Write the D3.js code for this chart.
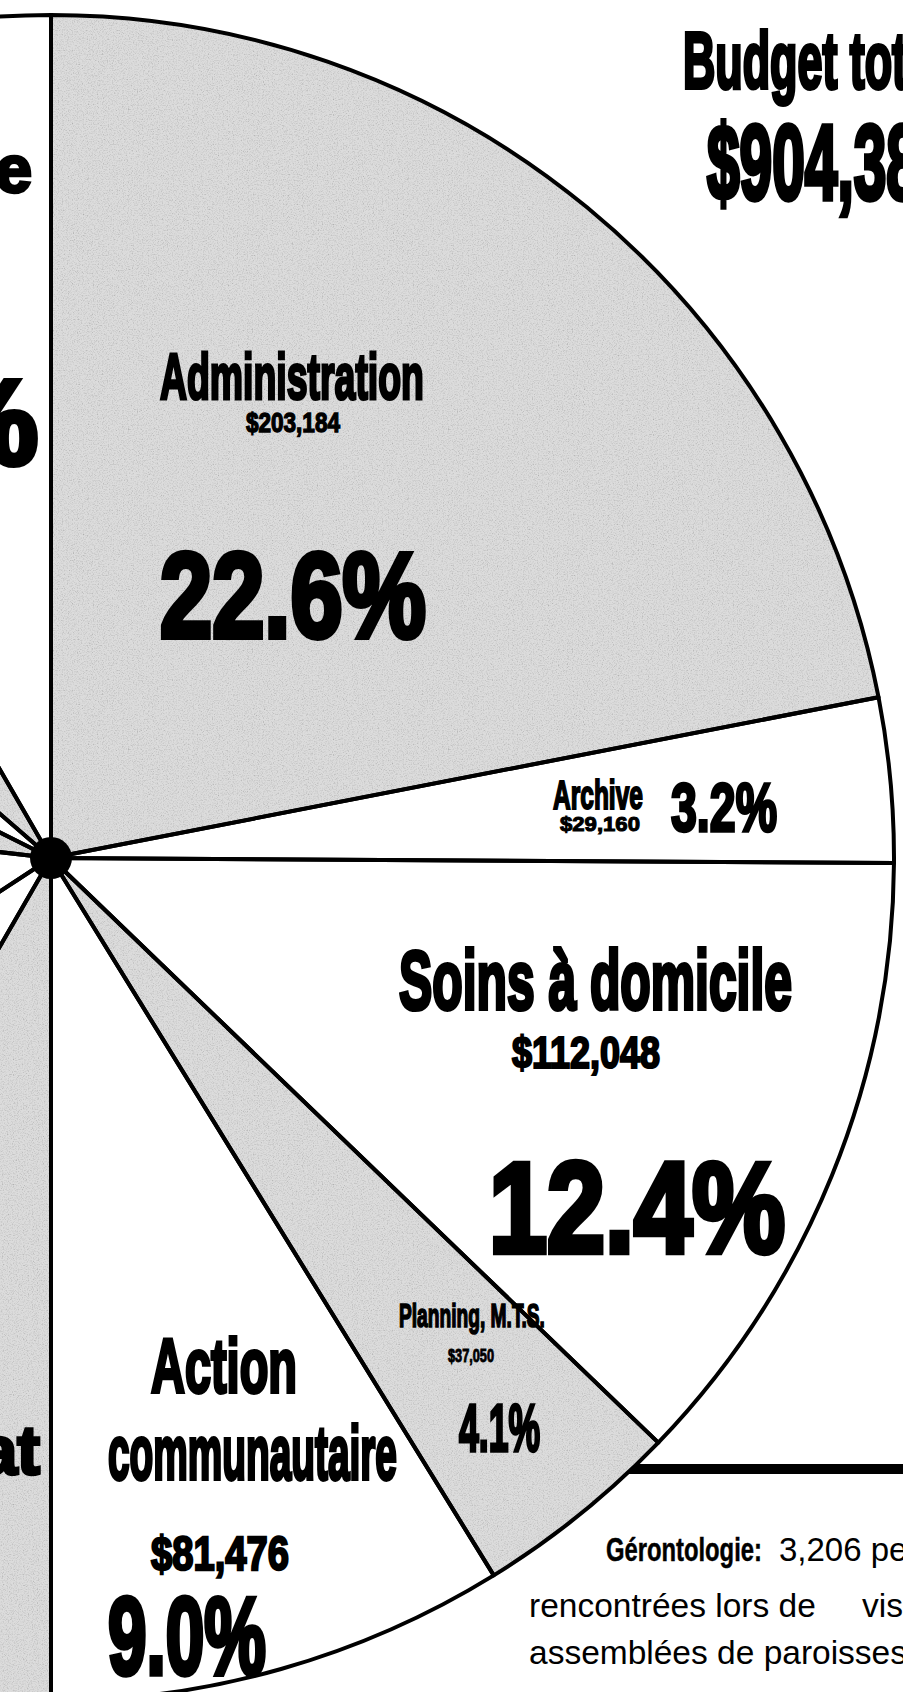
<!DOCTYPE html>
<html>
<head>
<meta charset="utf-8">
<script src="https://cdn.jsdelivr.net/npm/d3@7"></script>
<style>
  html, body { margin: 0; padding: 0; background: #fff; }
  svg { display: block; }
</style>
</head>
<body>
<script>
// Right half of the pie: the slices that are inside the frame
var categories = ["Administration", "Archive", "Soins à domicile", "Planning, M.T.S.", "Action communautaire"];
var amounts = [203184, 29160, 112048, 37050, 81476];
var percents = [22.6, 3.2, 12.4, 4.1, 9.0];
var shaded = [true, false, false, true, false];

// Left half is cut off by the frame, amounts estimated from the angles of the spokes
var leftCategories = ["Secrétariat", "Autre A", "Autre B", "Autre C", "Autre D", "Autre E", "Gérontologie"];
var leftAmounts = [73600, 65700, 97600, 49100, 35100, 46800, 73600];
var leftPercents = [8.1, 7.3, 10.8, 5.4, 3.9, 5.2, 8.1];
var leftShaded = [true, false, false, true, false, true, false];

var titleText = "Budget total";
var totalBudget = 904388;

var captionLines = [
  ["Gérontologie:", "3,206 personnes"],
  ["rencontrées lors de", "visites"],
  ["assemblées de paroisses"]
];

var W = 903, H = 1692;
var cx = 51, cy = 858, R = 843;

var money = function (v) { return "$" + d3.format(",")(v); };
var pct = function (v) { return d3.format(".1f")(v) + "%"; };

var svg = d3.select("body").append("svg")
    .attr("width", W)
    .attr("height", H);

// newsprint grain for the shaded slices
var filter = svg.append("defs").append("filter")
    .attr("id", "grain")
    .attr("x", 0).attr("y", 0).attr("width", 1).attr("height", 1);
filter.append("feTurbulence")
    .attr("type", "fractalNoise").attr("baseFrequency", 0.8)
    .attr("numOctaves", 2).attr("seed", 7).attr("result", "noise");
filter.append("feColorMatrix")
    .attr("in", "noise").attr("type", "matrix")
    .attr("values", "0.33 0.33 0.33 0 0  0.33 0.33 0.33 0 0  0.33 0.33 0.33 0 0  0 0 0 0 1")
    .attr("result", "mono");
var ct = filter.append("feComponentTransfer").attr("in", "mono").attr("result", "soft");
["feFuncR", "feFuncG", "feFuncB"].forEach(function (f) {
  ct.append(f).attr("type", "linear").attr("slope", 1.3).attr("intercept", 0.32);
});
filter.append("feComposite")
    .attr("in", "soft").attr("in2", "SourceGraphic")
    .attr("operator", "in").attr("result", "masked");
filter.append("feBlend")
    .attr("in", "masked").attr("in2", "SourceGraphic").attr("mode", "multiply");

// rule on the far left and the heavy bar under the chart
svg.append("line")
    .attr("x1", 2).attr("y1", 16).attr("x2", 2).attr("y2", 770)
    .attr("stroke", "#000").attr("stroke-width", 3);
svg.append("rect")
    .attr("x", 560).attr("y", 1464).attr("width", W - 560).attr("height", 10)
    .attr("fill", "#000");

var rightData = categories.map(function (c, i) {
  return { name: c, amount: amounts[i], pct: percents[i], shaded: shaded[i] };
});
var leftData = leftCategories.map(function (c, i) {
  return { name: c, amount: leftAmounts[i], pct: leftPercents[i], shaded: leftShaded[i] };
});

var pieRight = d3.pie().sort(null).value(function (d) { return d.amount; })
    .startAngle(0).endAngle(Math.PI);
var pieLeft = d3.pie().sort(null).value(function (d) { return d.amount; })
    .startAngle(Math.PI).endAngle(2 * Math.PI);
var slices = pieRight(rightData).concat(pieLeft(leftData));

var arc = d3.arc().innerRadius(0).outerRadius(R);

var pie = svg.append("g").attr("transform", "translate(" + cx + "," + cy + ")");

pie.selectAll("path.fill")
    .data(slices)
    .enter().append("path")
    .attr("class", "fill")
    .attr("d", arc)
    .attr("fill", function (d) { return d.data.shaded ? "#dcdcdc" : "#fff"; })
    .attr("filter", function (d) { return d.data.shaded ? "url(#grain)" : null; });

pie.selectAll("path.edge")
    .data(slices)
    .enter().append("path")
    .attr("class", "edge")
    .attr("d", arc)
    .attr("fill", "none")
    .attr("stroke", "#000")
    .attr("stroke-width", 4)
    .attr("stroke-linejoin", "round");

pie.append("circle").attr("r", 21).attr("fill", "#000");

// labels: heavy condensed type, stretched to the width measured on the scan
var heavy = "'Liberation Sans Narrow', 'Liberation Sans', Arial, sans-serif";
var labels = svg.append("g");

function label(text, x, y, fs, w, opts) {
  opts = opts || {};
  var g = labels.append("g");
  var t = g.append("text")
      .text(text)
      .attr("font-family", opts.family || heavy)
      .attr("font-weight", opts.weight || "bold")
      .attr("font-size", fs)
      .attr("text-anchor", opts.anchor || "start")
      .attr("fill", "#000")
      .attr("stroke", "#000")
      .attr("stroke-width", opts.sw == null ? fs / 20 : opts.sw)
      .style("white-space", "pre");
  var natural = opts.prefix ? t.node().getSubStringLength(0, opts.prefix)
                            : t.node().getComputedTextLength();
  var sx = w ? w / natural : 1;
  g.attr("transform", "translate(" + x + "," + y + ") scale(" + sx + ",1)");
}

// right half labels: (text, x, baseline, font size, width)
var r = rightData;
label(r[0].name, 160, 399, 64, 264);
label(money(r[0].amount), 246, 432, 28, 94);
label(pct(r[0].pct), 160, 637, 121, 266);

label(r[1].name, 553, 809, 41, 90);
label(money(r[1].amount), 560, 831, 21, 80);
label(pct(r[1].pct), 671, 831, 68, 106);

label(r[2].name, 399, 1009, 84, 393);
label(money(r[2].amount), 512, 1068, 44, 148);
label(pct(r[2].pct), 489, 1252, 128, 296);

label(r[3].name, 399, 1327, 34, 146);
label(money(r[3].amount), 448, 1362, 18, 46);
label(pct(r[3].pct), 459, 1451, 66, 81);

var actionWords = r[4].name.split(" ");
label(actionWords[0], 151, 1392, 76, 146);
label(actionWords[1], 108, 1479, 76, 289);
label(money(r[4].amount), 151, 1570, 48, 138);
label(pct(r[4].pct), 108, 1674, 110, 158);

// left half, only the ends of the words show
var l = leftData;
label(l[6].name, 32, 192, 66, 0, { anchor: "end" });
label(pct(l[6].pct), 38, 464, 121, 0, { anchor: "end" });
label(l[0].name, 40, 1474, 68, 0, { anchor: "end" });

// title, clipped by the right edge
label(titleText, 683, 88, 80, 224, { prefix: 10 });
label(money(totalBudget), 707, 199, 106, 212, { prefix: 7 });

// caption under the bar
var plain = "'Liberation Sans', Arial, sans-serif";
label(captionLines[0][0], 606, 1561, 33, 156, { family: plain, sw: 0.5 });
label(captionLines[0][1], 779, 1561, 33, 0, { family: plain, weight: "normal", sw: 0 });
label(captionLines[1][0], 529, 1617, 33.5, 0, { family: plain, weight: "normal", sw: 0 });
label(captionLines[1][1], 862, 1617, 33.5, 0, { family: plain, weight: "normal", sw: 0 });
label(captionLines[2][0], 529, 1664, 33.5, 0, { family: plain, weight: "normal", sw: 0 });
</script>
</body>
</html>
